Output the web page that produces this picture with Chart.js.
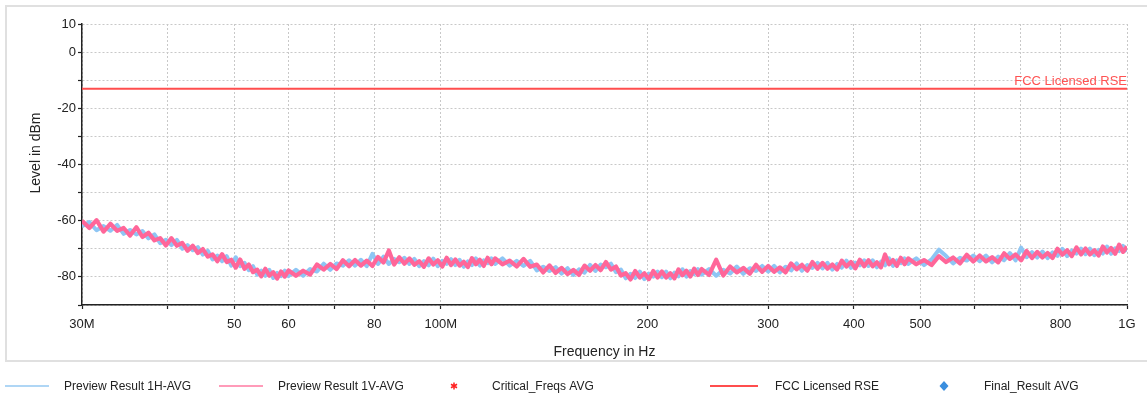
<!DOCTYPE html>
<html>
<head>
<meta charset="utf-8">
<script src="https://cdn.jsdelivr.net/npm/chart.js@4.4.1/dist/chart.umd.min.js"></script>
<style>
  body { margin: 0; background: #fff; }
  canvas { display: block; }
</style>
</head>
<body>
<canvas id="chart" width="1147" height="397"></canvas>
<script>
// frequencies in MHz
const freqMHz = [
  30, 30.75, 31.5, 32.25, 33, 33.75, 34.5, 35.25, 36, 36.75, 37.5, 38.25, 39, 39.75, 40.5, 41.25, 42, 42.75, 43.5, 44.25,
  45, 45.75, 46.5, 47.25, 48, 48.75, 49.5, 50.25, 51, 51.75, 52.5, 53.25, 54, 54.75, 55.5, 56.25, 57, 57.75, 58.5, 59.25,
  60, 61.5, 63, 64.5, 66, 67.5, 69, 70.5, 72, 73.5, 75, 76.5, 78, 79.5, 81, 82.5, 84, 85.5, 87, 88.5,
  90, 91.5, 93, 94.5, 96, 97.5, 99, 100.5, 102, 103.5, 105, 106.5, 108, 109.5, 111, 112.5, 114, 115.5, 117, 118.5,
  120, 123, 126, 129, 132, 135, 138, 141, 144, 147, 150, 153, 156, 159, 162, 165, 168, 171, 174, 177,
  180, 183, 186, 189, 192, 195, 198, 201, 204, 207, 210, 213, 216, 219, 222, 225, 228, 231, 234, 237,
  240, 246, 252, 258, 264, 270, 276, 282, 288, 294, 300, 306, 312, 318, 324, 330, 336, 342, 348, 354,
  360, 366, 372, 378, 384, 390, 396, 402, 408, 414, 420, 426, 432, 438, 444, 450, 456, 462, 468, 474,
  480, 493, 506, 519, 532, 545, 558, 571, 584, 597, 610, 623, 636, 649, 662, 675, 688, 701, 714, 727,
  740, 753, 766, 779, 792, 805, 818, 831, 844, 857, 870, 883, 896, 909, 922, 935, 948, 961, 974, 987, 1000
];

// Preview Result 1H-AVG (dBm)
const levelH = [
  -62.0, -60.5, -63.4, -61.9, -63.6, -61.5, -64.7, -63.3, -64.9, -63.7, -66.3, -64.9, -68.0, -66.8, -68.7, -66.8, -70.0, -68.7, -70.5, -69.4,
  -72.1, -70.7, -73.8, -72.4, -74.4, -72.6, -76.0, -73.0, -76.2, -75.0, -77.6, -76.2, -79.2, -77.8, -79.6, -77.5, -80.4, -78.6, -79.7, -77.8,
  -79.7, -77.5, -79.6, -77.2, -78.1, -75.3, -77.5, -75.2, -76.0, -74.1, -76.0, -73.9, -76.2, -71.8, -75.4, -72.8, -75.4, -73.6, -74.8, -73.2,
  -75.4, -73.6, -76.2, -74.4, -75.9, -73.5, -76.2, -74.3, -75.4, -73.7, -75.8, -73.9, -76.4, -74.5, -75.8, -73.4, -76.0, -74.1, -75.1, -73.4,
  -75.4, -73.4, -76.0, -74.3, -76.1, -74.3, -77.7, -76.4, -77.9, -76.5, -78.8, -76.9, -79.3, -77.3, -78.5, -75.7, -77.9, -75.6, -76.6, -75.3,
  -78.3, -77.4, -80.5, -78.9, -80.4, -78.1, -80.8, -78.8, -79.9, -78.1, -80.1, -78.1, -80.5, -78.5, -79.8, -77.3, -79.9, -77.9, -79.0, -77.2,
  -79.2, -77.2, -79.6, -77.5, -78.8, -76.3, -78.9, -76.9, -77.9, -76.1, -78.1, -76.1, -78.4, -76.4, -77.7, -75.2, -77.8, -75.8, -76.8, -75.0,
  -77.0, -75.0, -77.4, -75.4, -76.7, -74.2, -76.8, -74.9, -75.9, -74.1, -76.1, -74.1, -76.6, -74.6, -75.9, -73.4, -76.1, -74.1, -75.1, -73.4,
  -75.4, -73.4, -75.8, -73.8, -70.3, -72.6, -75.2, -73.2, -74.2, -72.4, -74.4, -72.4, -74.8, -72.8, -74.1, -71.5, -74.1, -69.6, -73.0, -71.2,
  -73.1, -71.0, -73.3, -71.3, -72.5, -70.0, -72.6, -70.6, -71.7, -69.9, -71.9, -69.9, -72.3, -70.4, -71.7, -69.2, -71.8, -69.8, -70.8, -69.0, -71.0
];

// Preview Result 1V-AVG (dBm)
const levelV = [
  -60.0, -62.6, -59.8, -63.9, -61.1, -63.6, -62.6, -65.3, -62.3, -65.8, -64.3, -67.0, -66.2, -68.8, -66.2, -68.9, -67.9, -70.7, -68.9, -71.5,
  -70.1, -72.8, -72.0, -74.4, -71.9, -74.7, -73.9, -76.7, -73.8, -77.1, -75.6, -78.3, -77.4, -79.8, -77.1, -79.6, -78.3, -80.6, -78.1, -79.9,
  -77.7, -79.6, -77.8, -79.2, -75.6, -77.4, -75.4, -77.2, -74.1, -76.2, -74.0, -76.0, -74.2, -76.1, -72.9, -74.9, -70.6, -75.6, -73.0, -75.3,
  -73.4, -75.7, -74.4, -76.4, -73.4, -75.6, -74.1, -76.3, -73.2, -75.8, -73.8, -76.0, -74.6, -76.5, -73.3, -75.5, -73.9, -76.1, -73.2, -75.5,
  -73.4, -75.5, -74.2, -76.3, -73.6, -76.4, -75.6, -78.4, -75.9, -78.6, -76.8, -79.0, -77.5, -79.3, -76.0, -77.8, -75.8, -77.6, -74.7, -77.4,
  -76.3, -79.5, -78.7, -80.9, -77.9, -80.2, -78.7, -80.8, -77.9, -80.2, -78.1, -80.2, -78.7, -80.5, -77.3, -79.4, -77.8, -79.9, -77.1, -79.3,
  -77.2, -79.3, -73.9, -79.5, -76.3, -78.4, -76.8, -78.9, -75.7, -78.2, -76.1, -78.2, -76.6, -78.4, -75.2, -77.3, -75.7, -77.8, -74.7, -77.1,
  -75.0, -77.1, -75.6, -77.4, -74.2, -76.3, -74.7, -76.9, -73.9, -76.2, -74.1, -76.2, -74.8, -76.6, -72.0, -75.5, -74.0, -76.1, -73.2, -75.5,
  -73.4, -75.5, -74.0, -75.8, -72.6, -74.7, -73.1, -75.2, -72.1, -74.5, -72.4, -74.5, -73.0, -74.8, -71.6, -73.6, -72.0, -74.1, -70.8, -73.3,
  -71.1, -73.1, -71.5, -73.3, -70.0, -72.1, -70.5, -72.6, -69.5, -72.0, -69.9, -72.0, -70.5, -72.4, -69.2, -71.3, -69.7, -71.8, -68.5, -71.1, -69.2
];

// limit line
const limitFreq = [30, 1000];
const limitLevel = [-13, -13];
const limitLabel = "FCC Licensed RSE";

// axis ticks
const xTickValues = [30, 40, 50, 60, 70, 80, 100, 200, 300, 400, 500, 600, 700, 800, 1000];
const xTickLabels = ["30M", "", "50", "60", "", "80", "100M", "200", "300", "400", "500", "", "", "800", "1G"];
const yLabeled = [10, 0, -20, -40, -60, -80];

const seriesNames = [
  "Preview Result 1H-AVG",
  "Preview Result 1V-AVG",
  "Critical_Freqs AVG",
  "FCC Licensed RSE",
  "Final_Result AVG",
];

const FONT = "'Liberation Sans', Arial, sans-serif";
const TEXT = "#222";

function toPoints(xs, ys) {
  return xs.map((x, i) => ({ x: x, y: ys[i] }));
}

// fond blanc + cadre gris
const framePlugin = {
  id: "framePlugin",
  beforeDraw: (chart) => {
    const ctx = chart.ctx;
    ctx.save();
    ctx.fillStyle = "#fff";
    ctx.fillRect(0, 0, chart.width, chart.height);
    ctx.strokeStyle = "#e0e0e0";
    ctx.lineWidth = 2;
    ctx.strokeRect(6, 6, chart.width + 10, 355);
    ctx.restore();
  },
};

// texte de la ligne limite
const limitLabelPlugin = {
  id: "limitLabelPlugin",
  afterDatasetsDraw: (chart) => {
    const ctx = chart.ctx;
    const x = chart.scales.x.getPixelForValue(limitFreq[1]);
    const y = chart.scales.y.getPixelForValue(limitLevel[1]);
    ctx.save();
    ctx.font = "13px " + FONT;
    ctx.fillStyle = "#ff5252";
    ctx.textAlign = "right";
    ctx.textBaseline = "alphabetic";
    ctx.fillText(limitLabel, x, y - 4);
    ctx.restore();
  },
};

// titre Y placé à la main (un peu au-dessus du centre, comme l'original)
const yTitlePlugin = {
  id: "yTitlePlugin",
  afterDraw: (chart) => {
    const ctx = chart.ctx;
    ctx.save();
    ctx.translate(36, 153);
    ctx.rotate(-Math.PI / 2);
    ctx.font = "14px " + FONT;
    ctx.fillStyle = TEXT;
    ctx.textAlign = "center";
    ctx.textBaseline = "middle";
    ctx.fillText("Level in dBm", 0, 0);
    ctx.restore();
  },
};

// légende en bas, colonnes fixes
const legendSlots = [
  { kind: "line", color: "#94c8f2", width: 1.5, x0: 5, x1: 49, tx: 64 },
  { kind: "line", color: "#ff7aa2", width: 1.5, x0: 219, x1: 263, tx: 278 },
  { kind: "star", color: "#ff2020", cx: 454, tx: 492 },
  { kind: "line", color: "#ff4d4d", width: 2, x0: 710, x1: 758, tx: 775 },
  { kind: "diamond", color: "#3a8ede", cx: 944, tx: 984 },
];

const bottomLegendPlugin = {
  id: "bottomLegendPlugin",
  afterDraw: (chart) => {
    const ctx = chart.ctx;
    const y = 386;
    ctx.save();
    legendSlots.forEach((slot, i) => {
      if (slot.kind === "line") {
        ctx.strokeStyle = slot.color;
        ctx.lineWidth = slot.width;
        ctx.beginPath();
        ctx.moveTo(slot.x0, y);
        ctx.lineTo(slot.x1, y);
        ctx.stroke();
      } else if (slot.kind === "star") {
        ctx.strokeStyle = slot.color;
        ctx.lineWidth = 1.5;
        ctx.beginPath();
        for (let k = 0; k < 3; k++) {
          const a = (Math.PI / 3) * k + Math.PI / 2;
          ctx.moveTo(slot.cx - 3.5 * Math.cos(a), y - 3.5 * Math.sin(a));
          ctx.lineTo(slot.cx + 3.5 * Math.cos(a), y + 3.5 * Math.sin(a));
        }
        ctx.stroke();
      } else {
        ctx.fillStyle = slot.color;
        ctx.beginPath();
        ctx.moveTo(slot.cx, y - 5);
        ctx.lineTo(slot.cx + 4.5, y);
        ctx.lineTo(slot.cx, y + 5);
        ctx.lineTo(slot.cx - 4.5, y);
        ctx.closePath();
        ctx.fill();
      }
      ctx.font = "12px " + FONT;
      ctx.fillStyle = TEXT;
      ctx.textAlign = "left";
      ctx.textBaseline = "middle";
      ctx.fillText(chart.data.datasets[i].label, slot.tx, y + 1);
    });
    ctx.restore();
  },
};

const ctx = document.getElementById("chart").getContext("2d");

new Chart(ctx, {
  type: "line",
  data: {
    datasets: [
      {
        label: seriesNames[0],
        data: toPoints(freqMHz, levelH),
        borderColor: "#8ec6f4",
        borderWidth: 4,
        borderJoinStyle: "round",
        pointRadius: 0,
        tension: 0,
        order: 2,
      },
      {
        label: seriesNames[1],
        data: toPoints(freqMHz, levelV),
        borderColor: "#ff6699",
        borderWidth: 4.2,
        borderJoinStyle: "round",
        pointRadius: 0,
        tension: 0,
        order: 1,
      },
      {
        label: seriesNames[2],
        data: [],
        borderColor: "#ff2020",
        pointStyle: "star",
        showLine: false,
      },
      {
        label: seriesNames[3],
        data: toPoints(limitFreq, limitLevel),
        borderColor: "#ff4d4d",
        borderWidth: 2,
        pointRadius: 0,
        order: 0,
      },
      {
        label: seriesNames[4],
        data: [],
        backgroundColor: "#3a8ede",
        pointStyle: "rectRot",
        showLine: false,
      },
    ],
  },
  options: {
    responsive: false,
    animation: false,
    devicePixelRatio: 1,
    layout: {
      padding: { left: 0, top: 24, right: 20, bottom: 35 },
    },
    scales: {
      x: {
        type: "logarithmic",
        min: 30,
        max: 1000,
        afterBuildTicks: (scale) => {
          scale.ticks = xTickValues.map((v) => ({ value: v }));
        },
        afterFit: (scale) => {
          scale.height = 57;
        },
        ticks: {
          autoSkip: false,
          maxRotation: 0,
          padding: 8,
          color: TEXT,
          font: { family: FONT, size: 13 },
          callback: (value, index) => xTickLabels[index],
        },
        grid: {
          color: "#c8c8c8",
          tickLength: 4,
          tickColor: "#222",
          tickWidth: 1.2,
        },
        border: {
          color: "#222",
          width: 1.5,
          dash: [2, 2],
        },
        title: {
          display: true,
          text: "Frequency in Hz",
          color: TEXT,
          font: { family: FONT, size: 14 },
          padding: { top: 0, bottom: 1 },
        },
      },
      y: {
        type: "linear",
        min: -90,
        max: 10,
        afterFit: (scale) => {
          scale.width = 82;
        },
        ticks: {
          stepSize: 10,
          padding: 2,
          color: TEXT,
          font: { family: FONT, size: 13 },
          callback: (value) => (yLabeled.includes(value) ? String(value) : ""),
        },
        grid: {
          color: "#c8c8c8",
          tickLength: 4,
          tickColor: "#222",
          tickWidth: 1.2,
        },
        border: {
          color: "#222",
          width: 1.5,
          dash: [2, 2],
        },
        title: { display: false },
      },
    },
    plugins: {
      legend: { display: false },
      tooltip: { enabled: false },
    },
  },
  plugins: [framePlugin, limitLabelPlugin, yTitlePlugin, bottomLegendPlugin],
});
</script>
</body>
</html>
